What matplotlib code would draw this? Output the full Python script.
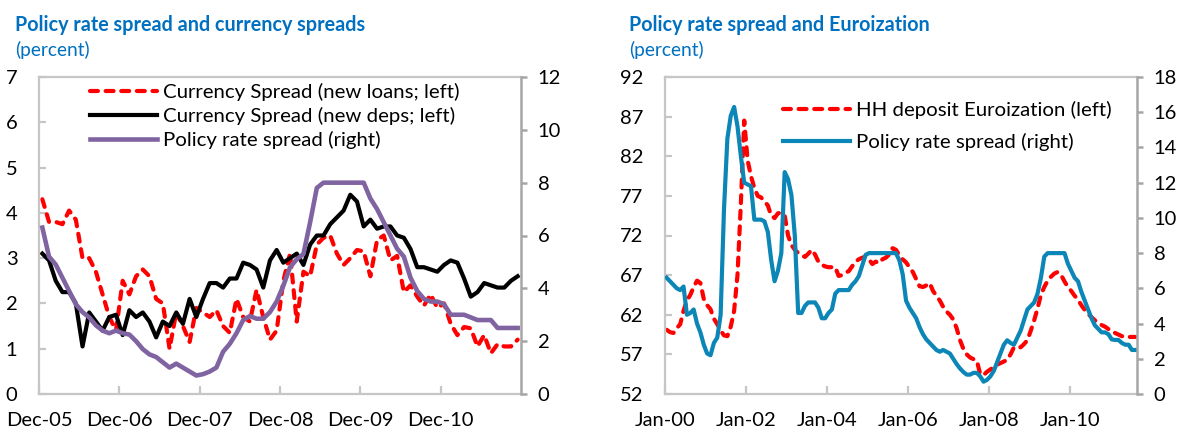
import numpy as np
import matplotlib
matplotlib.use("Agg")
import matplotlib.pyplot as plt

plt.rcParams['font.family'] = ['Lato', 'DejaVu Sans']

# ---------------- Left chart data (monthly, Dec-05 .. Nov-11) ----------------
left_xticklabels = ["Dec-05", "Dec-06", "Dec-07", "Dec-08", "Dec-09", "Dec-10"]

spread_new_loans = [4.3, 3.8, 3.8, 3.75, 4.05, 3.85, 3.0, 3.0, 2.7, 2.2,
                    1.7, 1.4, 2.5, 2.2, 2.6, 2.75, 2.6, 2.1, 2.0, 1.0,
                    1.8, 1.5, 1.15, 1.9, 1.8, 1.7, 1.85, 1.5, 1.35, 2.1,
                    1.7, 1.6, 2.3, 1.7, 1.2, 1.4, 2.5, 3.1, 1.6, 2.7,
                    2.6, 3.3, 3.45, 3.5, 3.1, 2.85, 3.0, 3.18, 3.15, 2.6,
                    3.4, 3.5, 2.95, 3.05, 2.25, 2.4, 2.15, 1.95, 2.2, 1.9,
                    2.0, 1.55, 1.3, 1.48, 1.45, 1.05, 1.3, 0.9, 1.1, 1.05,
                    1.05, 1.2]

spread_new_deps = [3.1, 2.95, 2.5, 2.25, 2.25, 2.0, 1.05, 1.8, 1.6, 1.4,
                   1.7, 1.75, 1.3, 1.85, 1.7, 1.8, 1.6, 1.25, 1.6, 1.5,
                   1.8, 1.55, 2.1, 1.7, 2.1, 2.45, 2.45, 2.35, 2.55, 2.55,
                   2.9, 2.85, 2.75, 2.35, 2.95, 3.18, 2.9, 3.0, 3.1, 2.85,
                   3.3, 3.5, 3.5, 3.75, 3.9, 4.05, 4.4, 4.25, 3.7, 3.85,
                   3.65, 3.7, 3.7, 3.5, 3.45, 3.2, 2.8, 2.8, 2.75, 2.7,
                   2.85, 2.95, 2.9, 2.55, 2.15, 2.25, 2.45, 2.4, 2.35, 2.35,
                   2.5, 2.6]

policy_spread_left = [6.3, 5.2, 4.9, 4.4, 3.9, 3.4, 3.1, 2.9, 2.6, 2.4,
                      2.3, 2.4, 2.3, 2.25, 2.0, 1.7, 1.5, 1.4, 1.2, 1.0,
                      1.15, 1.0, 0.85, 0.7, 0.75, 0.85, 1.0, 1.6, 1.9, 2.3,
                      2.8, 2.95, 2.85, 2.85, 3.1, 3.5, 4.1, 4.8, 5.1, 5.3,
                      6.5, 7.8, 8.0, 8.0, 8.0, 8.0, 8.0, 8.0, 8.0, 7.4,
                      7.0, 6.5, 6.0, 5.5, 5.2, 4.4, 3.9, 3.6, 3.5, 3.5,
                      3.4, 3.0, 3.0, 3.0, 2.9, 2.8, 2.8, 2.8, 2.5, 2.5,
                      2.5, 2.5]

# ---------------- Right chart data (monthly, Jan-00 .. Aug-11) ----------------
right_xticklabels = ["Jan-00", "Jan-02", "Jan-04", "Jan-06", "Jan-08", "Jan-10"]

hh_euroization = [60.1, 59.8, 59.7, 60.3, 60.8, 62.5, 63.8, 64.5, 65.5, 66.3,
                  66.0, 64.0, 63.2, 62.7, 61.5, 60.8, 60.0, 59.4, 59.3, 60.5,
                  62.5, 67.0, 76.0, 86.5, 81.5, 79.5, 78.0, 77.0, 76.8, 76.3,
                  75.8, 74.5, 74.2, 74.8, 74.9, 74.5, 72.0, 70.8, 70.2, 69.8,
                  69.5, 69.3, 69.7, 70.2, 69.6, 68.7, 68.3, 68.1, 68.0, 68.0,
                  68.0, 66.9, 67.0, 67.3, 67.5, 68.1, 68.7, 69.0, 69.2, 69.3,
                  69.0, 68.4, 68.7, 68.5, 69.0, 69.2, 69.6, 70.4, 70.2, 69.5,
                  69.0, 68.6, 68.0, 67.4, 66.5, 65.6, 65.5, 65.7, 66.0, 65.0,
                  64.4, 63.8, 63.0, 62.4, 62.0, 61.4, 60.3, 58.8, 57.7, 57.0,
                  56.6, 56.4, 56.2, 54.5, 54.4, 54.8, 55.1, 55.4, 55.7, 55.9,
                  56.1, 56.3, 57.0, 57.9, 57.9, 57.9, 58.3, 58.8, 60.0, 61.3,
                  62.8, 64.5, 65.5, 66.3, 66.8, 67.2, 67.4, 67.0, 66.2, 65.5,
                  65.0, 64.4, 63.9, 63.2, 62.6, 62.1, 61.7, 61.3, 61.0, 60.7,
                  60.5, 60.2, 59.9, 59.7, 59.5, 59.3, 59.2, 59.2, 59.2, 59.2]

policy_spread_right = [6.6, 6.4, 6.2, 6.0, 5.9, 6.1, 4.5, 4.6, 4.8, 4.0,
                       3.5, 2.8, 2.3, 2.2, 2.9, 3.2, 4.5, 10.5, 14.5, 15.8,
                       16.3, 15.2, 13.5, 12.0, 11.9, 11.8, 9.9, 9.9, 9.9, 9.8,
                       9.2, 7.6, 6.4, 7.0, 8.0, 12.6, 12.2, 11.3, 9.0, 4.6,
                       4.6, 5.0, 5.2, 5.2, 5.2, 4.9, 4.3, 4.3, 4.6, 4.8,
                       5.7, 5.9, 5.9, 5.9, 5.9, 6.2, 6.4, 6.7, 7.3, 7.9,
                       8.0, 8.0, 8.0, 8.0, 8.0, 8.0, 8.0, 8.0, 8.0, 7.6,
                       6.8, 5.3, 4.9, 4.6, 4.3, 3.8, 3.4, 3.1, 2.9, 2.7,
                       2.5, 2.4, 2.5, 2.4, 2.3, 2.0, 1.7, 1.45, 1.25, 1.1,
                       1.1, 1.2, 1.2, 1.0, 0.7, 0.8, 1.0, 1.3, 1.8, 2.3,
                       2.8, 3.05, 2.9, 2.8, 3.2, 3.6, 4.2, 4.8, 5.0, 5.2,
                       5.7, 6.6, 7.8, 8.0, 8.0, 8.0, 8.0, 8.0, 8.0, 7.4,
                       7.0, 6.6, 6.4, 5.8, 5.3, 4.8, 4.3, 3.9, 3.7, 3.5,
                       3.5, 3.4, 3.1, 3.07, 3.07, 2.9, 2.8, 2.8, 2.5, 2.5]

# ---------------- Styling ----------------
W, H = 1179, 434
TITLE_BLUE = '#0070c0'
BOX_GREY = '#c6c6c6'
AXIS_GREY = '#a6a6a6'
RED = '#ff0000'
PURPLE = '#8064a2'
BLUE = '#0b86b6'
FS_TICK = 14.5
FS_LEG = 14.7
LW = 3.0
dash = (1.9, 1.85)

fig = plt.figure(figsize=(W / 100, H / 100), dpi=100)


def style_axes(ax, axr, xmax, ticks, labels):
    ax.set_xlim(0, xmax)
    ax.set_xticks(ticks)
    ax.set_xticklabels(labels)
    for s in ['top', 'left', 'bottom']:
        ax.spines[s].set_color(BOX_GREY)
        ax.spines[s].set_linewidth(1.6)
    ax.spines['right'].set_visible(False)
    for s in ['top', 'left', 'bottom']:
        axr.spines[s].set_visible(False)
    axr.spines['right'].set_color(AXIS_GREY)
    axr.spines['right'].set_linewidth(1.8)
    ax.tick_params(axis='y', direction='in', length=5, width=1.6, color=BOX_GREY,
                   pad=15.5, labelsize=FS_TICK, labelcolor='black')
    ax.tick_params(axis='x', direction='in', length=6, width=1.6, color=BOX_GREY,
                   pad=13, labelsize=FS_TICK, labelcolor='black')
    axr.tick_params(axis='y', direction='out', length=4, width=1.8, color=AXIS_GREY,
                    pad=8, labelsize=FS_TICK, labelcolor='black')


# ---------------- Left chart ----------------
axL = fig.add_axes([39 / W, 1 - 394 / H, (521 - 39) / W, 317 / H])
axLr = axL.twinx()
xl = np.arange(len(spread_new_loans)) + 0.5

l1, = axL.plot(xl, spread_new_loans, color=RED, lw=LW, dashes=dash,
               dash_capstyle='round', solid_joinstyle='round',
               label='Currency Spread (new loans; left)')
l2, = axL.plot(xl, spread_new_deps, color='black', lw=LW,
               solid_joinstyle='round', label='Currency Spread (new deps; left)')
l3, = axLr.plot(xl, policy_spread_left, color=PURPLE, lw=3.3,
                solid_joinstyle='round', label='Policy rate spread (right)')
axL.set_ylim(0, 7)
axL.set_yticks(range(0, 8))
axLr.set_ylim(0, 12)
axLr.set_yticks(range(0, 13, 2))
style_axes(axL, axLr, 72, [0, 12, 24, 36, 48, 60], left_xticklabels)
axLr.legend(handles=[l1, l2, l3], loc='upper left', bbox_to_anchor=(0.105, 0.98),
            frameon=False, fontsize=FS_LEG, handlelength=3.3, handletextpad=0.3,
            labelspacing=0.28, borderpad=0, borderaxespad=0)

fig.text(15 / W, 1 - 31 / H, 'Policy rate spread and currency spreads',
         color=TITLE_BLUE, fontsize=14.2, fontweight='bold', va='baseline', ha='left')
fig.text(15 / W, 1 - 56 / H, '(percent)', color=TITLE_BLUE, fontsize=13.8,
         va='baseline', ha='left')

# ---------------- Right chart ----------------
axR = fig.add_axes([665 / W, 1 - 394 / H, (1137 - 665) / W, 317 / H])
axRr = axR.twinx()
xr = np.arange(len(hh_euroization)) + 0.5

r1, = axR.plot(xr, hh_euroization, color=RED, lw=LW, dashes=dash,
               dash_capstyle='round', solid_joinstyle='round',
               label='HH deposit Euroization (left)')
r2, = axRr.plot(xr, policy_spread_right, color=BLUE, lw=3.0,
                solid_joinstyle='round', label='Policy rate spread (right)')
axR.set_ylim(52, 92)
axR.set_yticks(range(52, 93, 5))
axRr.set_ylim(0, 18)
axRr.set_yticks(range(0, 19, 2))
style_axes(axR, axRr, 140, [0, 24, 48, 72, 96, 120], right_xticklabels)
axRr.legend(handles=[r1, r2], loc='upper left', bbox_to_anchor=(0.25, 0.925),
            frameon=False, fontsize=FS_LEG, handlelength=3.3, handletextpad=0.3,
            labelspacing=0.68, borderpad=0, borderaxespad=0)

fig.text(629 / W, 1 - 31 / H, 'Policy rate spread and Euroization',
         color=TITLE_BLUE, fontsize=14.2, fontweight='bold', va='baseline', ha='left')
fig.text(629 / W, 1 - 56 / H, '(percent)', color=TITLE_BLUE, fontsize=13.8,
         va='baseline', ha='left')

fig.savefig('out.png', dpi=100)
